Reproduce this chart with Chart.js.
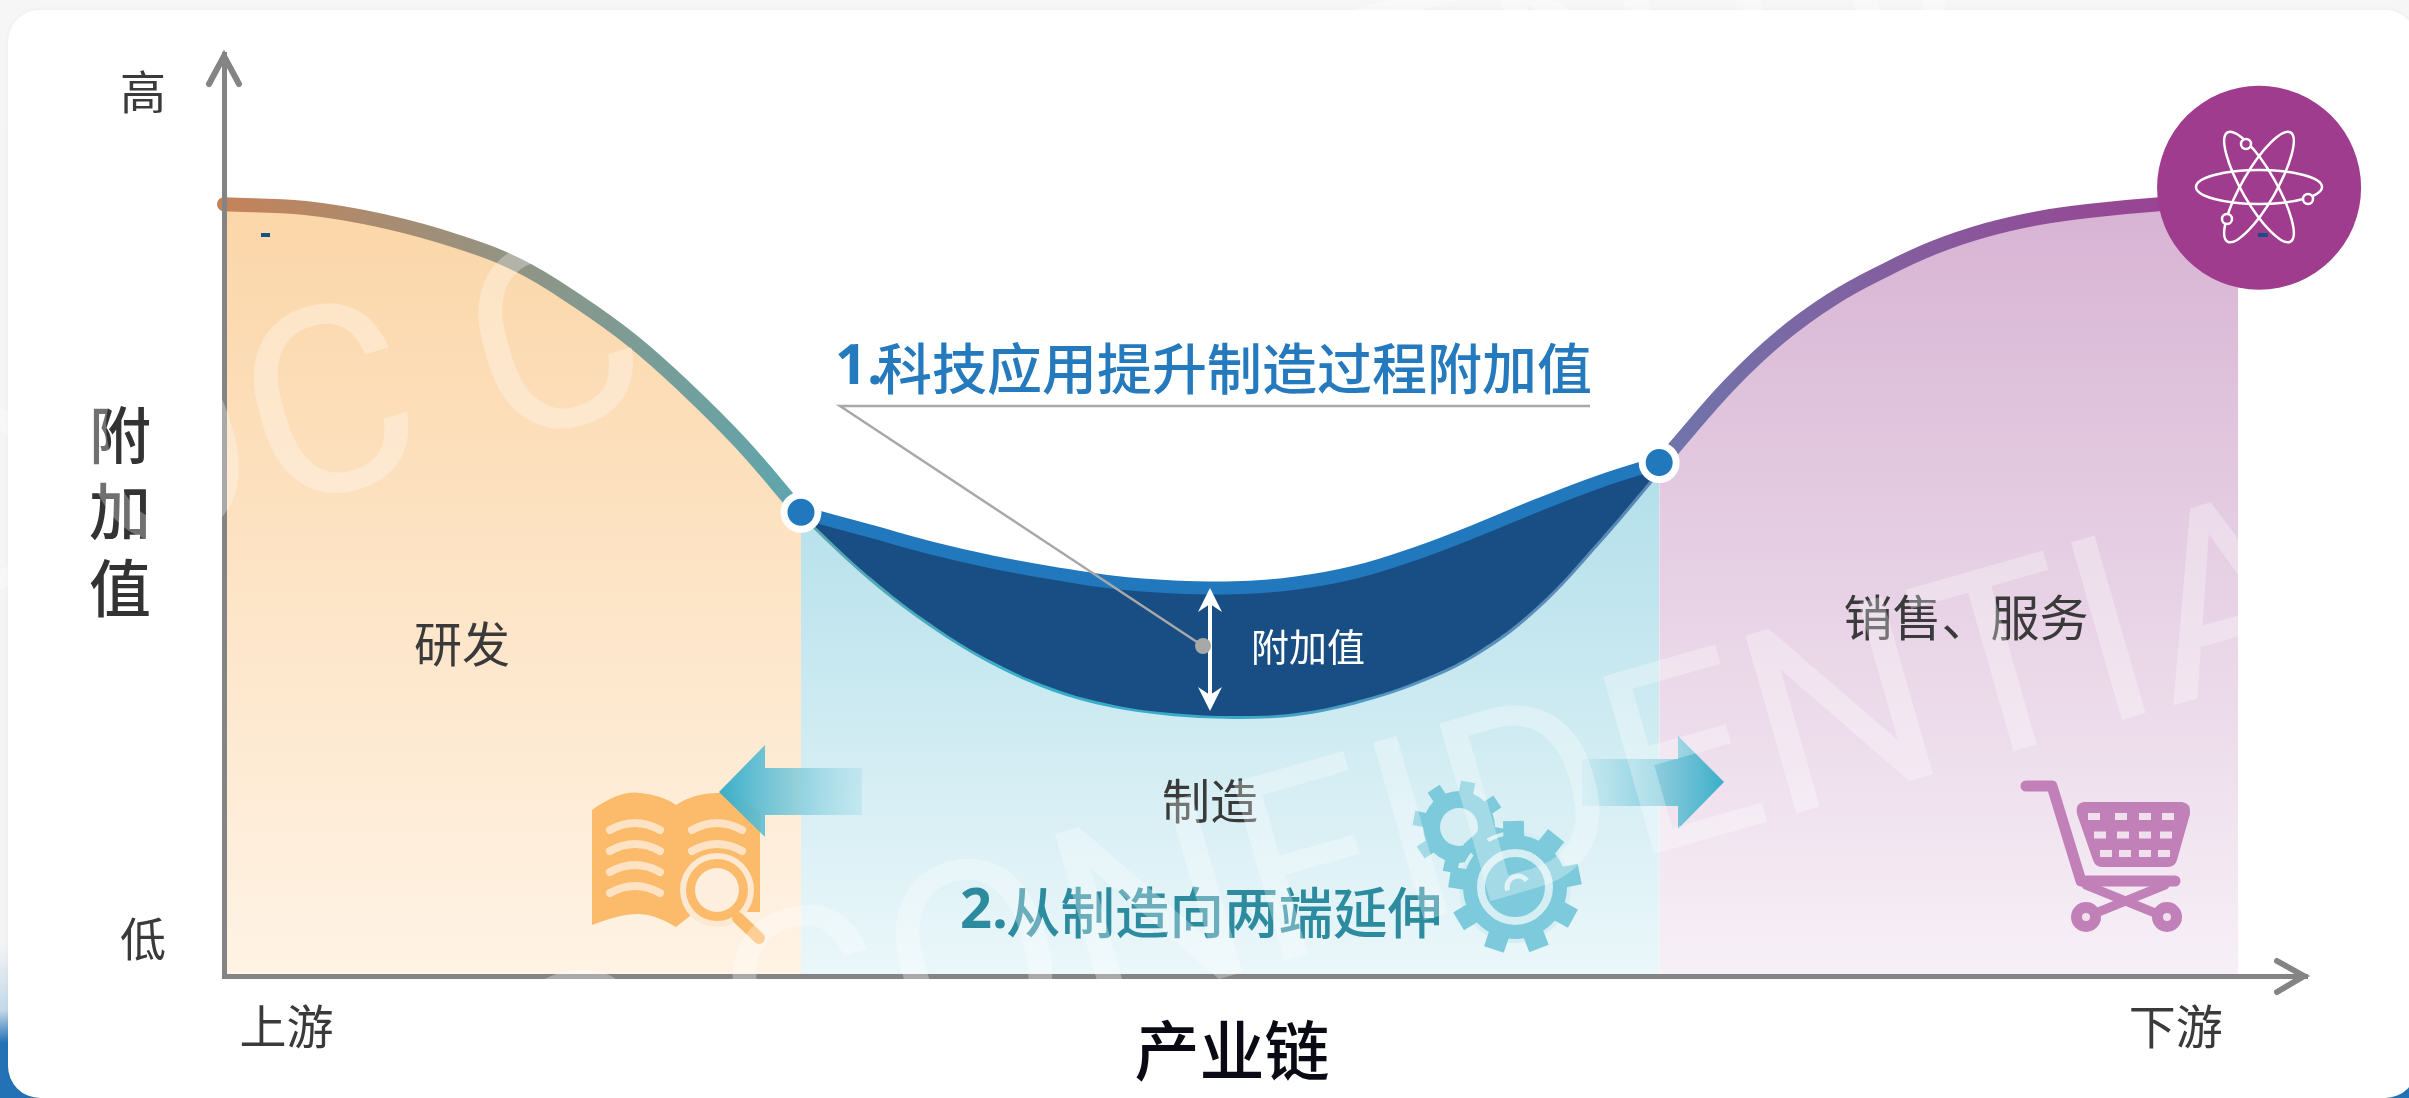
<!DOCTYPE html>
<html lang="zh">
<head>
<meta charset="utf-8">
<title>附加值 产业链</title>
<script src="https://cdn.jsdelivr.net/npm/chart.js@4/dist/chart.umd.min.js"></script>
<style>
html, body { margin: 0; height: 100%; overflow: hidden; }
body { background: linear-gradient(#f6f6f6 0, #f4f4f4 86%, #c4d9ea 92%, #2272b5 95%); }
#card { position: absolute; left: 8px; top: 10px; width: 2409px; height: 1088px; background: #fff; border-radius: 32px; box-shadow: 0 0 6px rgba(0,0,0,.04); }
canvas { position: absolute; left: 0; top: 0; display: block; }
</style>
</head>
<body>
<div id="card"></div>
<canvas id="smile" width="2409" height="1098" style="width:2409px;height:1098px"></canvas>
<script>
// values, both axes run 0-100
const researchX = [0, 3.9, 7.6, 11.3, 14.2, 16.9, 19.6, 22.1, 24.8, 27.7];
const researchY = [83.7, 83.3, 81.9, 79.6, 77.0, 73.3, 68.9, 63.9, 57.8, 50.2];

const salesX = [68.9, 69.7, 72.3, 74.7, 77.2, 79.7, 82.1, 84.6, 87.1, 89.6, 92.9, 96.7];
const salesY = [55.3, 57.5, 64.2, 69.3, 73.4, 76.5, 79.0, 80.9, 82.2, 83.0, 83.7, 84.2];

const makingX = [27.7, 31.1, 34.0, 36.9, 39.8, 42.7, 45.6, 48.5, 51.4, 54.3, 57.3, 60.2, 63.1, 66.0, 68.9];
const makingLow = [50.2, 43.1, 38.1, 34.1, 31.2, 29.4, 28.5, 28.2, 28.5, 29.8, 32.0, 35.2, 40.2, 47.2, 54.9];
const makingHigh = [50.3, 48.2, 46.4, 44.9, 43.7, 42.7, 42.2, 42.1, 42.6, 43.8, 45.9, 48.4, 51.1, 53.6, 55.7];

const jointX = [27.7, 68.9];
const jointY = [50.3, 55.7];
const badgeX = [97.7];
const badgeY = [85.5];

const yTickValues = [4.1, 95.9];
const yTickLabels = ['低', '高'];
const xTickValues = [3.0, 93.7];
const xTickLabels = ['上游', '下游'];

const CJK = "'Noto Sans CJK SC'";
const AXIS_GREY = '#848484';

function points(xs, ys) {
    return xs.map((x, i) => ({ x: x, y: ys[i] }));
}

// vertical fill gradient, needs the chart area so it is made on demand
function fillDown(stops, topValue) {
    return function(context) {
        const chart = context.chart;
        if (!chart.chartArea) return stops[0];
        const top = chart.scales.y.getPixelForValue(topValue);
        const g = chart.ctx.createLinearGradient(0, top, 0, chart.chartArea.bottom);
        g.addColorStop(0, stops[0]);
        g.addColorStop(1, stops[1]);
        return g;
    };
}

// stroke gradient running along the x axis
function strokeAcross(stops, fromValue, toValue) {
    return function(context) {
        const chart = context.chart;
        if (!chart.chartArea) return stops[0];
        const x = chart.scales.x;
        const g = chart.ctx.createLinearGradient(x.getPixelForValue(fromValue), 0, x.getPixelForValue(toValue), 0);
        stops.forEach((c, i) => g.addColorStop(i / (stops.length - 1), c));
        return g;
    };
}

function label(ctx, text, x, y, font, color, align) {
    ctx.font = font;
    ctx.fillStyle = color;
    ctx.textAlign = align || 'center';
    ctx.textBaseline = 'middle';
    ctx.fillText(text, x, y);
}

function chevron(ctx, x1, y1, x2, y2, x3, y3) {
    ctx.beginPath();
    ctx.moveTo(x1, y1);
    ctx.lineTo(x2, y2);
    ctx.lineTo(x3, y3);
    ctx.strokeStyle = AXIS_GREY;
    ctx.lineWidth = 6;
    ctx.lineCap = 'round';
    ctx.lineJoin = 'miter';
    ctx.stroke();
}

function poly(ctx, pts, fill) {
    ctx.beginPath();
    pts.forEach((p, i) => i ? ctx.lineTo(p[0], p[1]) : ctx.moveTo(p[0], p[1]));
    ctx.closePath();
    ctx.fillStyle = fill;
    ctx.fill();
}

function circle(ctx, x, y, r, fill) {
    ctx.beginPath();
    ctx.arc(x, y, r, 0, Math.PI * 2);
    ctx.fillStyle = fill;
    ctx.fill();
}

function drawBook(ctx) {
    const orange = '#fcbb6b';
    ctx.beginPath();
    ctx.moveTo(592, 810);
    ctx.quadraticCurveTo(620, 790, 640, 793);
    ctx.quadraticCurveTo(662, 795, 676, 805);
    ctx.quadraticCurveTo(695, 792, 721, 793);
    ctx.quadraticCurveTo(742, 795, 760, 812);
    ctx.lineTo(760, 912);
    ctx.lineTo(695, 912);
    ctx.lineTo(676, 927);
    ctx.quadraticCurveTo(655, 914, 638, 914);
    ctx.quadraticCurveTo(620, 914, 592, 925);
    ctx.closePath();
    ctx.fillStyle = orange;
    ctx.fill();

    ctx.strokeStyle = '#fde3c4';
    ctx.lineWidth = 8;
    ctx.lineCap = 'round';
    [[635, 825], [635, 846], [635, 867], [635, 888], [717, 825], [717, 846]].forEach(p => {
        ctx.beginPath();
        ctx.moveTo(p[0] - 25, p[1] + 5);
        ctx.quadraticCurveTo(p[0], p[1] - 9, p[0] + 25, p[1] + 5);
        ctx.stroke();
    });

    circle(ctx, 717, 890, 37, '#fde9d2');
    circle(ctx, 717, 890, 31, orange);
    circle(ctx, 717, 890, 22, '#fdeedd');
    ctx.beginPath();
    ctx.moveTo(738, 918);
    ctx.lineTo(759, 938);
    ctx.strokeStyle = orange;
    ctx.lineWidth = 12;
    ctx.stroke();
}

function drawArrows(ctx) {
    let g = ctx.createLinearGradient(719, 0, 862, 0);
    g.addColorStop(0, 'rgba(58,174,200,1)');
    g.addColorStop(0.5, 'rgba(120,200,218,.85)');
    g.addColorStop(1, 'rgba(170,222,234,.45)');
    poly(ctx, [[719, 792], [765, 745], [765, 768], [862, 768], [862, 815], [765, 815], [765, 837]], g);

    g = ctx.createLinearGradient(1582, 0, 1724, 0);
    g.addColorStop(0, 'rgba(170,222,234,.35)');
    g.addColorStop(0.5, 'rgba(120,200,218,.8)');
    g.addColorStop(1, 'rgba(58,174,200,1)');
    poly(ctx, [[1582, 759], [1678, 759], [1678, 736], [1724, 782], [1678, 829], [1678, 806], [1582, 806]], g);
}

function gear(ctx, cx, cy, body, tip, teeth, turn, color) {
    ctx.strokeStyle = color;
    ctx.lineWidth = body * 0.4;
    ctx.lineCap = 'butt';
    for (let i = 0; i < teeth; i++) {
        const a = turn + i * Math.PI * 2 / teeth;
        ctx.beginPath();
        ctx.moveTo(cx + Math.cos(a) * body * 0.9, cy + Math.sin(a) * body * 0.9);
        ctx.lineTo(cx + Math.cos(a) * tip, cy + Math.sin(a) * tip);
        ctx.stroke();
    }
    circle(ctx, cx, cy, body, color);
}

function drawGears(ctx) {
    const blue = '#7ccadb';
    gear(ctx, 1459, 827, 36, 46, 8, 0.2, blue);
    circle(ctx, 1459, 827, 19, '#d4eef3');
    circle(ctx, 1515, 887, 56, '#d4eef3');
    gear(ctx, 1515, 887, 52, 66, 9, 0.5, blue);
    ctx.beginPath();
    ctx.arc(1515, 887, 34, 0, Math.PI * 2);
    ctx.strokeStyle = '#d4eef3';
    ctx.lineWidth = 8;
    ctx.stroke();
    ctx.beginPath();
    ctx.arc(1518, 887, 11, Math.PI * 0.9, Math.PI * 1.8);
    ctx.strokeStyle = '#d4eef3';
    ctx.lineWidth = 5;
    ctx.stroke();
}

function drawCart(ctx) {
    const pink = '#c280b8';
    ctx.strokeStyle = pink;
    ctx.lineCap = 'round';
    ctx.lineJoin = 'round';
    ctx.lineWidth = 11;
    ctx.beginPath();
    ctx.moveTo(2026, 786);
    ctx.lineTo(2052, 786);
    ctx.lineTo(2081, 881);
    ctx.lineTo(2175, 881);
    ctx.stroke();
    ctx.lineWidth = 9;
    ctx.beginPath();
    ctx.moveTo(2086, 885);
    ctx.lineTo(2165, 917);
    ctx.moveTo(2165, 885);
    ctx.lineTo(2086, 917);
    ctx.stroke();

    ctx.beginPath();
    ctx.moveTo(2084, 802);
    ctx.lineTo(2182, 802);
    ctx.quadraticCurveTo(2191, 803, 2190, 814);
    ctx.lineTo(2177, 860);
    ctx.quadraticCurveTo(2175, 867, 2168, 867);
    ctx.lineTo(2102, 867);
    ctx.quadraticCurveTo(2095, 867, 2093, 860);
    ctx.lineTo(2077, 814);
    ctx.quadraticCurveTo(2075, 803, 2084, 802);
    ctx.fillStyle = pink;
    ctx.fill();

    ctx.fillStyle = '#f0e0ee';
    [[2088, 2115, 2139, 2162], [2094, 2117, 2139, 2160], [2100, 2119, 2139, 2158]].forEach((cols, r) => {
        cols.forEach(x => ctx.fillRect(x, 813 + r * 18.5, 12, 7));
    });

    [2086, 2167].forEach(x => {
        circle(ctx, x, 917, 15, pink);
        circle(ctx, x, 917, 4, '#f0e0ee');
    });
}

function drawAtom(ctx) {
    const cx = 2259, cy = 187;
    ctx.strokeStyle = '#fff';
    ctx.lineWidth = 2.5;
    [0, Math.PI / 3, -Math.PI / 3].forEach(a => {
        ctx.beginPath();
        ctx.ellipse(cx, cy, 63, 17, a, 0, Math.PI * 2);
        ctx.stroke();
    });
    [[2246, 144], [2308, 199], [2227, 219]].forEach(p => {
        circle(ctx, p[0], p[1], 5, '#a03c8e');
        ctx.stroke();
    });
}

function drawCallout(ctx) {
    // leader from the heading to the value band
    ctx.strokeStyle = '#a8a8a8';
    ctx.lineWidth = 2.5;
    ctx.lineCap = 'butt';
    ctx.beginPath();
    ctx.moveTo(1590, 406);
    ctx.lineTo(840, 406);
    ctx.lineTo(1203, 646);
    ctx.stroke();

    // double headed arrow across the band
    ctx.strokeStyle = '#fff';
    ctx.lineWidth = 4;
    ctx.beginPath();
    ctx.moveTo(1210, 600);
    ctx.lineTo(1210, 700);
    ctx.stroke();
    poly(ctx, [[1210, 588], [1222, 612], [1210, 604], [1198, 612]], '#fff');
    poly(ctx, [[1210, 711], [1222, 687], [1210, 695], [1198, 687]], '#fff');
    circle(ctx, 1203, 646, 8, '#a8a8a8');
}

const decorations = {
    id: 'decorations',
    afterDraw(chart) {
        const ctx = chart.ctx;
        ctx.save();

        // axis heads
        chevron(ctx, 209, 84, 224, 56, 239, 84);
        chevron(ctx, 2277, 961, 2304, 976, 2277, 992);

        drawCallout(ctx);
        drawBook(ctx);
        drawArrows(ctx);
        drawGears(ctx);
        drawCart(ctx);
        drawAtom(ctx);

        ctx.fillStyle = '#184e84';
        ctx.fillRect(261, 233, 9, 4);
        ctx.fillRect(2258, 233, 10, 4);

        const ink = '#3a3a3a';
        label(ctx, '附', 120, 435, '500 62px ' + CJK, '#333');
        label(ctx, '加', 120, 511, '500 62px ' + CJK, '#333');
        label(ctx, '值', 120, 588, '500 62px ' + CJK, '#333');
        label(ctx, '产业链', 1232, 1050, '500 65px ' + CJK, '#0a0a14');
        label(ctx, '研发', 462, 644, '48px ' + CJK, ink);
        label(ctx, '制造', 1210, 801, '48px ' + CJK, ink);
        label(ctx, '销售、服务', 1966, 617, '49px ' + CJK, ink);
        label(ctx, '附加值', 1308, 647, '38px ' + CJK, '#fff');

        label(ctx, '1.', 835, 368, "700 56px 'Open Sans'", '#2579bd', 'left');
        label(ctx, '科技应用提升制造过程附加值', 877, 368, '500 55px ' + CJK, '#2579bd', 'left');
        label(ctx, '2.', 960, 912, "700 56px 'Open Sans'", '#2c8b9e', 'left');
        label(ctx, '从制造向两端延伸', 1006, 912, '500 54.5px ' + CJK, '#2c8b9e', 'left');

        // confidential stamp lies over everything
        ctx.font = "400 260px Roboto";
        ctx.fillStyle = 'rgba(255,255,255,0.3)';
        ctx.textAlign = 'left';
        ctx.textBaseline = 'alphabetic';
        [[-64, 608], [190, 1274]].forEach(p => {
            ctx.save();
            ctx.translate(p[0], p[1]);
            ctx.rotate(-16 * Math.PI / 180);
            ctx.fillText('DOC CONFIDENTIAL', 0, 0);
            ctx.restore();
        });

        ctx.restore();
    }
};

Chart.defaults.font.family = CJK;

new Chart(document.getElementById('smile').getContext('2d'), {
    type: 'line',
    data: {
        datasets: [{
            label: 'joints',
            data: points(jointX, jointY),
            showLine: false,
            pointRadius: 17,
            pointBackgroundColor: '#2278bc',
            pointBorderColor: '#fff',
            pointBorderWidth: 7,
            clip: false
        }, {
            label: 'badge',
            data: points(badgeX, badgeY),
            showLine: false,
            pointRadius: 102,
            pointBackgroundColor: '#a03c8e',
            pointBorderWidth: 0,
            clip: false
        }, {
            label: 'value added',
            data: points(makingX, makingHigh),
            borderColor: '#2278bc',
            borderWidth: 13,
            pointRadius: 0,
            tension: 0.4,
            backgroundColor: '#184e84',
            fill: { target: 3 },
            clip: false
        }, {
            label: '制造',
            data: points(makingX, makingLow),
            borderColor: strokeAcross(['#5ea6ae', '#38aec8', '#3aa8c8', '#5a92bd', '#5a86b4'], 27.7, 68.9),
            borderWidth: 6,
            pointRadius: 0,
            tension: 0.4,
            backgroundColor: fillDown(['#b2dfea', '#ebf7fa'], 54.9),
            fill: 'origin',
            clip: false
        }, {
            label: '研发',
            data: points(researchX, researchY),
            borderColor: strokeAcross(['#c58259', '#5ea6ae'], 0, 27.7),
            borderWidth: 14,
            borderCapStyle: 'round',
            pointRadius: 0,
            tension: 0.4,
            backgroundColor: fillDown(['#fbd6a8', '#fff3e5'], 83.7),
            fill: 'origin',
            clip: false
        }, {
            label: '销售、服务',
            data: points(salesX, salesY),
            borderColor: strokeAcross(['#6f75ab', '#a03c8e'], 68.9, 96.7),
            borderWidth: 14,
            pointRadius: 0,
            tension: 0.4,
            backgroundColor: fillDown(['#d7b3d3', '#f7f0f7'], 84.2),
            fill: 'origin',
            clip: false
        }]
    },
    options: {
        responsive: false,
        devicePixelRatio: 1,
        animation: false,
        layout: { autoPadding: false, padding: { left: 0, right: 102, top: 54, bottom: 0 } },
        scales: {
            x: {
                type: 'linear',
                min: 0,
                max: 100,
                grid: { display: false },
                border: { color: AXIS_GREY, width: 5, z: 1 },
                ticks: {
                    color: '#3a3a3a',
                    font: { size: 47 },
                    padding: 14,
                    autoSkip: false,
                    maxRotation: 0,
                    callback: (value, i) => xTickLabels[i]
                },
                afterBuildTicks: scale => { scale.ticks = xTickValues.map(v => ({ value: v })); },
                afterFit: scale => {
                    scale.height = 122;
                    scale.paddingLeft = 0;
                    scale.paddingRight = 0;
                }
            },
            y: {
                type: 'linear',
                min: 0,
                max: 100,
                grid: { display: false },
                border: { color: AXIS_GREY, width: 5, z: 1 },
                ticks: {
                    color: '#3a3a3a',
                    font: { size: 46 },
                    padding: 50,
                    autoSkip: false,
                    callback: (value, i) => yTickLabels[i]
                },
                afterBuildTicks: scale => { scale.ticks = yTickValues.map(v => ({ value: v })); },
                afterFit: scale => {
                    scale.width = 224;
                    scale.paddingTop = 0;
                    scale.paddingBottom = 0;
                }
            }
        },
        plugins: {
            legend: { display: false },
            tooltip: { enabled: false }
        }
    },
    plugins: [decorations]
});
</script>
</body>
</html>
